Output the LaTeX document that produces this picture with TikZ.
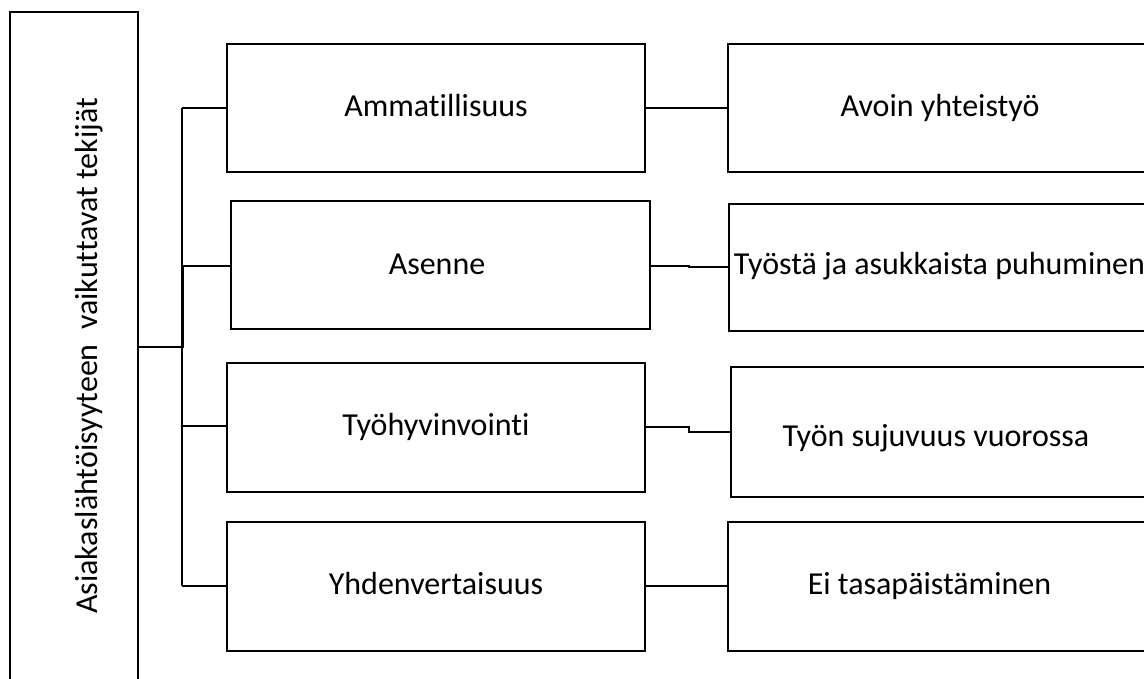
\documentclass[tikz,border=0pt]{standalone}
\usepackage{fontspec}
\setmainfont{Carlito}[Ligatures=NoCommon]
\begin{document}
\begin{tikzpicture}[x=1pt,y=-1pt,
  txt/.style={font=\fontsize{32}{36}\selectfont,inner sep=0pt,anchor=base},
  box/.style={draw,line width=1.6pt,rectangle,inner sep=0pt},
  con/.style={line width=1.6pt}]
\clip (0,0) rectangle (1144,679);
\fill[white] (0,0) rectangle (1144,679);
% left box (open at bottom)
\node[minimum width=128pt,minimum height=700pt,inner sep=0pt] (lft) at (74,362) {};
\draw[con] (10,700) -- (10,12) -- (138,12) -- (138,700);
\node[txt,rotate=90] (lt) at (97,356) {Asiakaslähtöisyyteen\ \ vaikuttavat tekijät};
% middle boxes
\node[box,minimum width=418pt,minimum height=128pt] (m1) at (436,108) {};
\node[box,minimum width=419pt,minimum height=128pt] (m2) at (440.5,265) {};
\node[box,minimum width=418pt,minimum height=129pt] (m3) at (436,427.5) {};
\node[box,minimum width=418pt,minimum height=129pt] (m4) at (436,586.5) {};
% right boxes
\node[box,minimum width=432pt,minimum height=128pt] (r1) at (944,108) {};
\node[box,minimum width=432pt,minimum height=127pt] (r2) at (945,267.5) {};
\node[box,minimum width=432pt,minimum height=130pt] (r3) at (947,432) {};
\node[box,minimum width=432pt,minimum height=129pt] (r4) at (944,586.5) {};
% texts
\node[txt] (m1t) at (436,116.7) {Ammatillisuus};
\node[txt] (m2t) at (437,275) {Asenne};
\node[txt] (m3t) at (436,435) {Työhyvinvointi};
\node[txt] (m4t) at (436,594.5) {Yhdenvertaisuus};
\node[txt] (r1t) at (940,117) {Avoin yhteistyö};
\node[txt] (r2t) at (939.5,275) {Työstä ja asukkaista puhuminen};
\node[txt] (r3t) at (936,446) {Työn sujuvuus vuorossa};
\node[txt] (r4t) at (929.5,594.5) {Ei tasapäistäminen};
% trunk
\coordinate (j) at (183,347);
\coordinate (t1) at (182,108);
\coordinate (t4) at (182,586);
\draw[con] (lft.east |- j) -- (j) -- (183,266);
\draw[con] (t1) -- (t4);
\draw[con] (t1) -- (m1.west |- t1);
\draw[con] (183,266) -- (m2.west |- 0,266);
\draw[con] (182,426) -- (m3.west |- 0,426);
\draw[con] (t4) -- (m4.west |- t4);
% middle to right
\draw[con] (m1.east |- 0,108) -- (r1.west |- 0,108);
\draw[con] (m2.east |- 0,266) -- (689,266) -- (689,267) -- (r2.west |- 0,267);
\draw[con] (m3.east |- 0,427) -- (689,427) -- (689,432) -- (r3.west |- 0,432);
\draw[con] (m4.east |- 0,586) -- (r4.west |- 0,586);
\end{tikzpicture}
\end{document}
